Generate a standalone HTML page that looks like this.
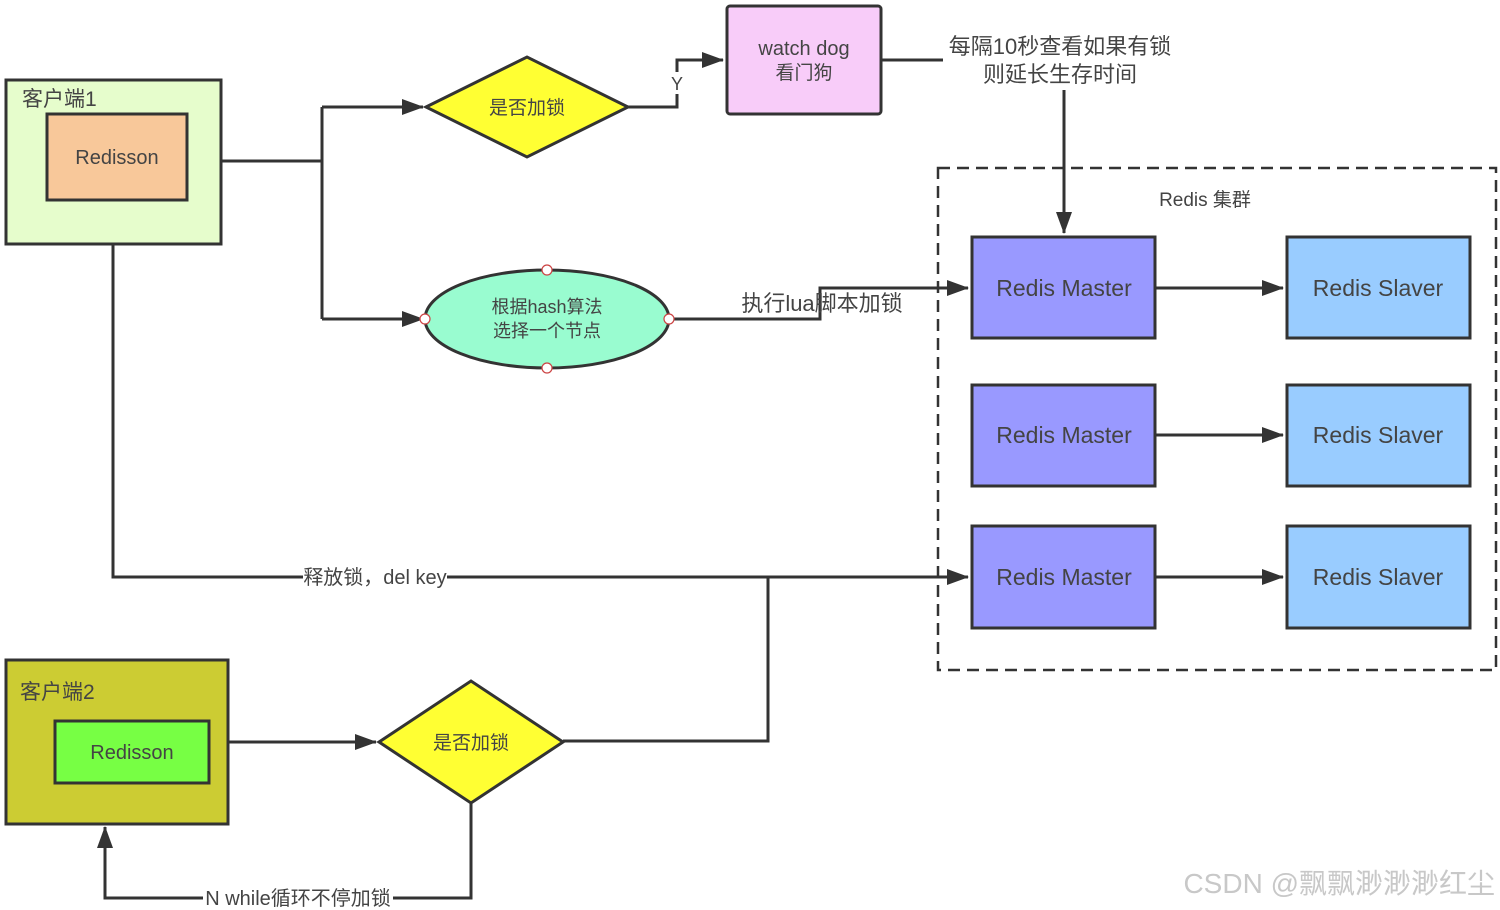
<!DOCTYPE html>
<html><head><meta charset="utf-8"><style>
html,body{margin:0;padding:0;background:#fff;}
svg{display:block;}
text{font-family:"Liberation Sans","Noto Sans CJK SC",sans-serif;fill:#444;}
</style></head><body>
<svg width="1500" height="910" viewBox="0 0 1500 910" xmlns="http://www.w3.org/2000/svg">
<defs>
<marker id="b" markerWidth="22" markerHeight="16" refX="21" refY="8" orient="auto" markerUnits="userSpaceOnUse">
<path d="M0,0 L22,8 L0,16 z" fill="#333"/></marker>
</defs>
<g stroke="#333" stroke-width="3" fill="none">
<rect x="6" y="80" width="215" height="164" fill="#e6fdcc"/>
<rect x="47" y="114" width="140" height="86" fill="#f8c89a"/>
<path d="M221,161 H322"/>
<path d="M322,107 V319" />
<path d="M322,107 H423" marker-end="url(#b)"/>
<path d="M322,319 H423" marker-end="url(#b)"/>
<polygon points="426,107 527,57 628,107 527,157" fill="#ffff33"/>
<path d="M628,107 H677 V60 H723" marker-end="url(#b)"/>
<rect x="727" y="6" width="154" height="108" rx="3" fill="#f8ccf9"/>
<path d="M881,60 H943"/>
<path d="M1064,90 V233" marker-end="url(#b)"/>
<rect x="938" y="168" width="558" height="502" stroke-dasharray="12,7" stroke-width="2.5"/>
<ellipse cx="547" cy="319" rx="122" ry="49" fill="#99fcd0"/>
<path d="M669,319 H820 V288 H968" marker-end="url(#b)"/>
<path d="M113,244 V577 H968" marker-end="url(#b)"/>
<rect x="972" y="237" width="183" height="101" fill="#9999ff"/>
<rect x="972" y="385" width="183" height="101" fill="#9999ff"/>
<rect x="972" y="526" width="183" height="102" fill="#9999ff"/>
<rect x="1287" y="237" width="183" height="101" fill="#99ccff"/>
<rect x="1287" y="385" width="183" height="101" fill="#99ccff"/>
<rect x="1287" y="526" width="183" height="102" fill="#99ccff"/>
<path d="M1155,288 H1283" marker-end="url(#b)"/>
<path d="M1155,435 H1283" marker-end="url(#b)"/>
<path d="M1155,577 H1283" marker-end="url(#b)"/>
<rect x="6" y="660" width="222" height="164" fill="#cccc33"/>
<rect x="55" y="721" width="154" height="62" fill="#77ff44"/>
<path d="M228,742 H376" marker-end="url(#b)"/>
<polygon points="379,742 471,681 563,742 471,803" fill="#ffff33"/>
<path d="M563,741 H768 V577"/>
<path d="M471,803 V898 H105 V827" marker-end="url(#b)"/>
</g>
<g fill="#fff" stroke="#c44" stroke-width="1.2">
<circle cx="547" cy="270" r="5"/><circle cx="547" cy="368" r="5"/>
<circle cx="425" cy="319" r="5"/><circle cx="669" cy="319" r="5"/>
</g>
<rect x="670" y="72" width="14" height="22" fill="#fff"/>
<rect x="303" y="564" width="144" height="26" fill="#fff"/>
<rect x="203" y="886" width="190" height="24" fill="#fff"/>
<text x="22" y="106" font-size="21">客户端1</text>
<text x="117" y="164" font-size="20" text-anchor="middle">Redisson</text>
<text x="527" y="114" font-size="19" text-anchor="middle">是否加锁</text>
<text x="677" y="90" font-size="18" text-anchor="middle">Y</text>
<text x="804" y="55" font-size="20" text-anchor="middle">watch dog</text>
<text x="804" y="79" font-size="19" text-anchor="middle">看门狗</text>
<text x="1060" y="54" font-size="22" text-anchor="middle">每隔10秒查看如果有锁</text>
<text x="1060" y="82" font-size="22" text-anchor="middle">则延长生存时间</text>
<text x="1205" y="206" font-size="19" text-anchor="middle">Redis 集群</text>
<text x="547" y="313" font-size="18" text-anchor="middle">根据hash算法</text>
<text x="547" y="337" font-size="18" text-anchor="middle">选择一个节点</text>
<text x="822" y="311" font-size="22" text-anchor="middle">执行lua脚本加锁</text>
<text x="1064" y="296" font-size="23" text-anchor="middle">Redis Master</text>
<text x="1064" y="443" font-size="23" text-anchor="middle">Redis Master</text>
<text x="1064" y="585" font-size="23" text-anchor="middle">Redis Master</text>
<text x="1378" y="296" font-size="23" text-anchor="middle">Redis Slaver</text>
<text x="1378" y="443" font-size="23" text-anchor="middle">Redis Slaver</text>
<text x="1378" y="585" font-size="23" text-anchor="middle">Redis Slaver</text>
<text x="375" y="584" font-size="20" text-anchor="middle">释放锁，del key</text>
<text x="20" y="699" font-size="21">客户端2</text>
<text x="132" y="759" font-size="20" text-anchor="middle">Redisson</text>
<text x="471" y="749" font-size="19" text-anchor="middle">是否加锁</text>
<text x="298" y="905" font-size="20" text-anchor="middle">N while循环不停加锁</text>
<text x="1495" y="893" font-size="28" text-anchor="end" style="fill:#c8c8c8">CSDN @飘飘渺渺渺红尘</text>
</svg>
</body></html>
